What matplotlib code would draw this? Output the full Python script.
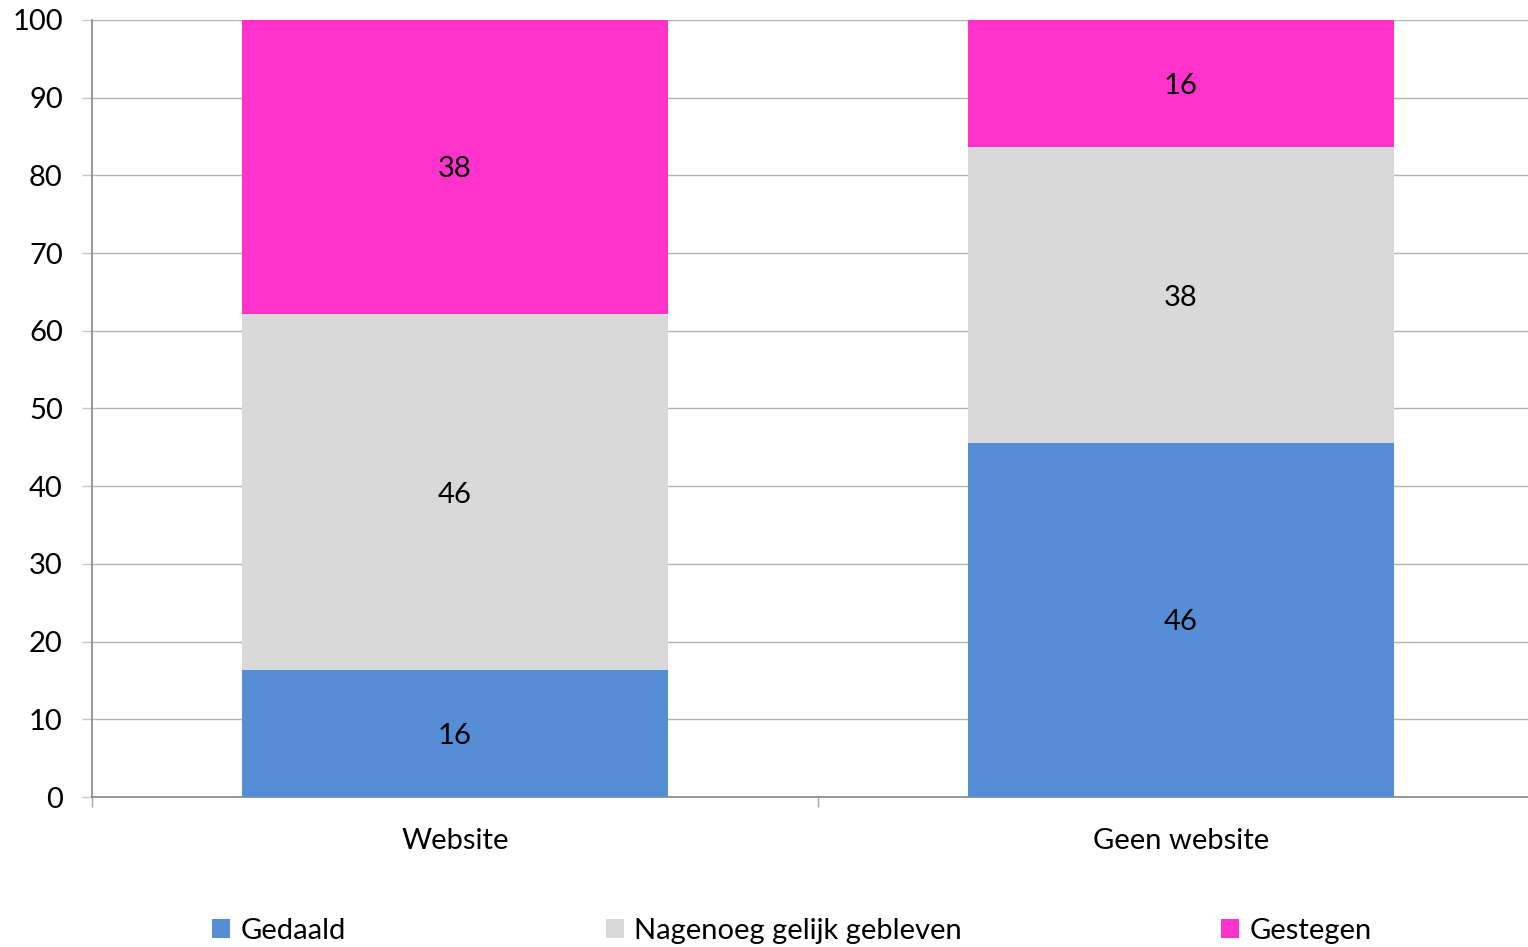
import matplotlib
matplotlib.use("Agg")
import matplotlib.pyplot as plt
import numpy as np

categories = ["Website", "Geen website"]
series_names = ["Gedaald", "Nagenoeg gelijk gebleven", "Gestegen"]
gedaald = [16.3, 45.6]
gelijk = [45.9, 38.0]
gestegen = [37.8, 16.4]
colors = ["#558ED5", "#D9D9D9", "#FF33CC"]

plt.rcParams["font.family"] = ["Lato", "DejaVu Sans"]
FS = 21

fig = plt.figure(figsize=(15.28, 9.47), dpi=100)
W, H = 1528, 947
ax = fig.add_axes([92 / W, 150 / H, 1452 / W, 777 / H])

x = np.arange(len(categories))
bottom = np.zeros(len(categories))
handles = []
for vals, name, col in zip([gedaald, gelijk, gestegen], series_names, colors):
    vals = np.array(vals)
    bars = ax.bar(x, vals, width=0.587, bottom=bottom, color=col, label=name, zorder=3)
    handles.append(bars)
    for xi, b, v in zip(x, bottom, vals):
        ax.text(xi, b + v / 2, f"{v:.0f}", ha="center", va="center_baseline",
                fontsize=FS, color="black", zorder=4)
    bottom += vals

ax.set_xlim(-0.5, 1.5)
ax.set_ylim(0, 100)
ax.set_yticks(np.arange(0, 101, 10))
ax.set_xticks(x)
ax.set_xticklabels(categories)
ax.set_xticks([-0.5, 0.5, 1.5], minor=True)
ax.grid(axis="y", color="#B3B3B3", linewidth=1.0, zorder=0)

for side in ["top", "right"]:
    ax.spines[side].set_visible(False)
for side in ["left", "bottom"]:
    ax.spines[side].set_color("#868686")
    ax.spines[side].set_linewidth(1.2)

ax.tick_params(axis="y", length=7, width=1, color="#C8C8C8", pad=14, labelsize=FS)
ax.tick_params(axis="x", which="major", length=0, pad=22, labelsize=FS)
ax.tick_params(axis="x", which="minor", length=7, width=1, color="#A6A6A6")

fig.legend(handles=handles, labels=series_names, loc="center",
           bbox_to_anchor=(792 / W, 1 - 931 / H), ncol=3, frameon=False,
           fontsize=FS, handlelength=0.62, handleheight=0.62,
           handletextpad=0.35, columnspacing=8.9, borderaxespad=0)

fig.savefig("out.png", dpi=100)
